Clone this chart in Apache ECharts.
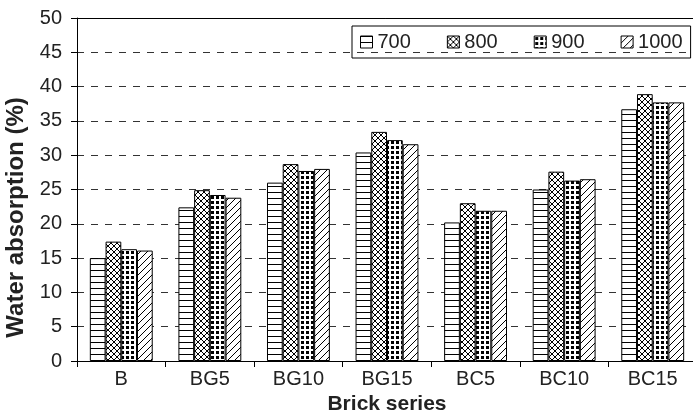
<!DOCTYPE html>
<html>
<head>
<meta charset="utf-8">
<script src="https://cdn.jsdelivr.net/npm/echarts@6/dist/echarts.min.js"></script>
<style>
  html, body { margin: 0; padding: 0; background: #fff; }
  #main { width: 693px; height: 416px; }
</style>
</head>
<body>
<div id="main"></div>
<script>
var categories = ['B', 'BG5', 'BG10', 'BG15', 'BC5', 'BC10', 'BC15'];
var seriesNames = ['700', '800', '900', '1000'];
var s700 = [15.0, 22.4, 26.0, 30.4, 20.2, 25.0, 36.7];
var s800 = [17.4, 24.9, 28.7, 33.4, 23.0, 27.6, 38.9];
var s900 = [16.3, 24.2, 27.7, 32.2, 21.9, 26.3, 37.7];
var s1000 = [16.1, 23.8, 28.0, 31.6, 21.9, 26.5, 37.7];

var FONT = "'Liberation Sans', Arial, sans-serif";

// hatch patterns, drawn on small canvases
function makePattern(kind) {
    var size = kind === 'grid' ? 5 : (kind === 'diag' ? 7 : 6);
    var c = document.createElement('canvas');
    c.width = size; c.height = size;
    var ctx = c.getContext('2d');
    ctx.fillStyle = '#fff';
    ctx.fillRect(0, 0, size, size);
    ctx.strokeStyle = '#000';
    ctx.fillStyle = '#000';
    ctx.lineWidth = 1;
    if (kind === 'horiz') {
        ctx.beginPath();
        ctx.moveTo(0, 0.5); ctx.lineTo(size, 0.5);
        ctx.stroke();
    } else if (kind === 'cross') {
        ctx.beginPath();
        ctx.moveTo(0, 0); ctx.lineTo(size, size);
        ctx.moveTo(0, size); ctx.lineTo(size, 0);
        ctx.stroke();
    } else if (kind === 'grid') {
        ctx.fillRect(1, 1, 3, 3);
    } else if (kind === 'diag') {
        ctx.beginPath();
        ctx.moveTo(0, size); ctx.lineTo(size, 0);
        ctx.moveTo(-1, 1); ctx.lineTo(1, -1);
        ctx.moveTo(size - 1, size + 1); ctx.lineTo(size + 1, size - 1);
        ctx.stroke();
    }
    return { image: c, repeat: 'repeat' };
}

var patterns = [makePattern('horiz'), makePattern('cross'), makePattern('grid'), makePattern('diag')];
var allData = [s700, s800, s900, s1000];

var myChart = echarts.init(document.getElementById('main'), null, { renderer: 'canvas' });

var series = [];
for (var i = 0; i < seriesNames.length; i++) {
    series.push({
        name: seriesNames[i],
        type: 'bar',
        data: allData[i],
        barGap: '0%',
        barCategoryGap: '29%',
        itemStyle: {
            color: patterns[i],
            borderColor: '#000',
            borderWidth: 1
        }
    });
}

myChart.setOption({
    animation: false,
    backgroundColor: '#fff',
    textStyle: { fontFamily: FONT },
    grid: {
        left: 77,
        top: 18,
        width: 620,
        height: 343,
        containLabel: false,
        outerBoundsMode: 'none'
    },
    legend: {
        data: seriesNames,
        left: 352,
        top: 26,
        orient: 'horizontal',
        padding: [6, 8],
        itemGap: 36,
        itemWidth: 12,
        itemHeight: 12,
        icon: 'rect',
        borderColor: '#000',
        borderWidth: 1,
        borderRadius: 0,
        textStyle: { fontFamily: FONT, fontSize: 20, color: '#222' },
        itemStyle: { borderColor: '#000', borderWidth: 1 }
    },
    xAxis: [{
        type: 'category',
        data: categories,
        name: 'Brick series',
        nameLocation: 'middle',
        nameGap: 31,
        nameTextStyle: { fontFamily: FONT, fontSize: 21, fontWeight: 'bold', color: '#222' },
        axisLine: { show: true, lineStyle: { color: '#000', width: 1 } },
        axisTick: { show: true, alignWithLabel: false, length: 6, lineStyle: { color: '#000' } },
        axisLabel: { interval: 0, margin: 8, fontSize: 20, color: '#222', fontFamily: FONT },
        splitLine: { show: false }
    }, {
        type: 'category',
        data: categories,
        position: 'top',
        axisLine: { show: true, lineStyle: { color: '#000', width: 1 } },
        axisTick: { show: false },
        axisLabel: { show: false },
        splitLine: { show: false }
    }],
    yAxis: {
        type: 'value',
        min: 0,
        max: 50,
        interval: 5,
        name: 'Water absorption (%)',
        nameLocation: 'middle',
        nameGap: 49,
        nameTextStyle: {
            fontFamily: FONT, fontSize: 24, fontWeight: 'bold', color: '#222',
            padding: [0, 56, 0, 0]  // push the title down a bit
        },
        axisLine: { show: true, lineStyle: { color: '#000', width: 1 } },
        axisTick: { show: true, length: 6, lineStyle: { color: '#000' } },
        axisLabel: { margin: 15, fontSize: 20, color: '#222', fontFamily: FONT },
        splitLine: { show: true, lineStyle: { color: '#333', type: [7, 7], width: 1 } }
    },
    series: series
});
</script>
</body>
</html>
